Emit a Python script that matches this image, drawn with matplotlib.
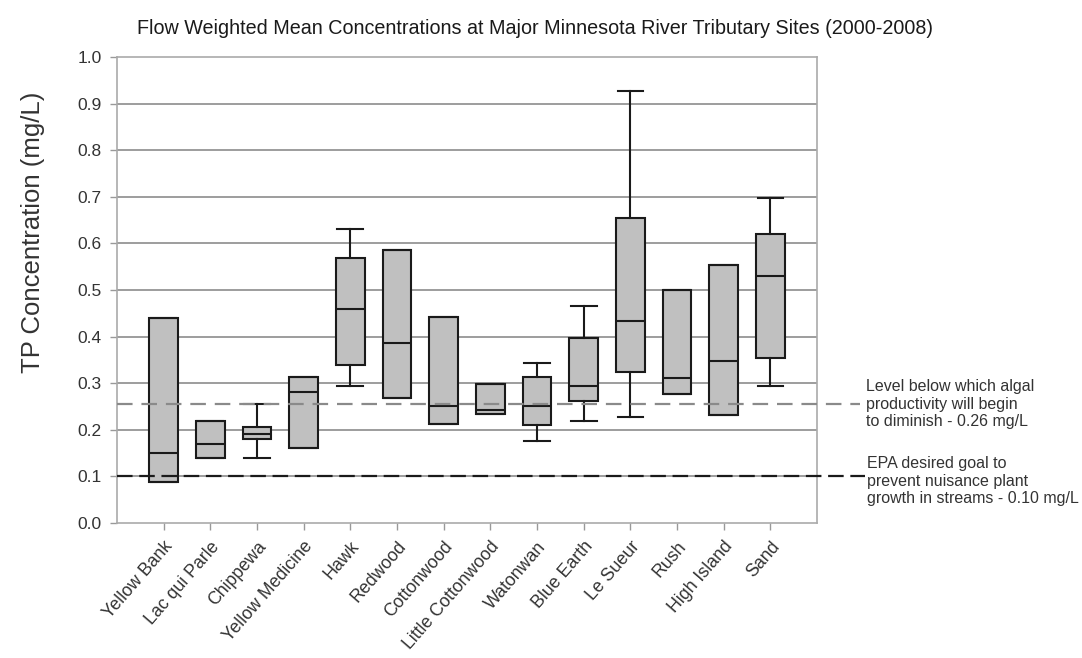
import matplotlib
matplotlib.use("Agg")
import matplotlib.pyplot as plt
from matplotlib import font_manager

# box statistics (mg/L); None = no whisker drawn
sites = ["Yellow Bank", "Lac qui Parle", "Chippewa", "Yellow Medicine", "Hawk",
         "Redwood", "Cottonwood", "Little Cottonwood", "Watonwan", "Blue Earth",
         "Le Sueur", "Rush", "High Island", "Sand"]
q1 =     [0.087, 0.139, 0.180, 0.161, 0.338, 0.268, 0.212, 0.233, 0.210, 0.261, 0.325, 0.276, 0.232, 0.353]
median = [0.150, 0.170, 0.190, 0.280, 0.459, 0.386, 0.252, 0.243, 0.250, 0.293, 0.434, 0.312, 0.348, 0.531]
q3 =     [0.439, 0.219, 0.205, 0.314, 0.569, 0.586, 0.441, 0.298, 0.313, 0.398, 0.654, 0.501, 0.554, 0.620]
wlo =    [None, None, 0.139, None, 0.293, None, None, None, 0.175, 0.219, 0.227, None, None, 0.293]
whi =    [None, None, 0.255, None, 0.631, None, None, None, 0.343, 0.466, 0.928, None, None, 0.698]

algal_level = 0.255
epa_goal = 0.10

available = {f.name for f in font_manager.fontManager.ttflist}
title_font = "Liberation Sans Narrow" if "Liberation Sans Narrow" in available else "Liberation Sans"
plt.rcParams["font.family"] = ["Liberation Sans", "DejaVu Sans"]

stats = []
for i, name in enumerate(sites):
    has_whisk = wlo[i] is not None
    stats.append({
        "label": name,
        "q1": q1[i], "med": median[i], "q3": q3[i],
        "whislo": wlo[i] if has_whisk else q1[i],
        "whishi": whi[i] if has_whisk else q3[i],
        "fliers": [],
    })

fig = plt.figure(figsize=(10.82, 6.58), dpi=100)
ax = fig.add_axes([0.1081, 0.2052, 0.6470, 0.7082])

line = dict(color="#1a1a1a", linewidth=1.5)
ax.bxp(stats, positions=range(1, len(sites) + 1), widths=0.62,
       patch_artist=True, showfliers=False,
       boxprops=dict(facecolor="#c0c0c0", edgecolor="#1a1a1a", linewidth=1.5),
       medianprops=line, whiskerprops=line, capprops=line,
       capwidths=0.55, manage_ticks=False)

ax.set_xlim(0, 15)
ax.set_ylim(0, 1.0)
ax.set_yticks([i / 10 for i in range(11)])
ax.set_yticklabels([f"{i / 10:.1f}" for i in range(11)], fontsize=12.5, color="#333333")
ax.set_xticks(range(1, len(sites) + 1))
ax.set_xticklabels(sites, rotation=49, ha="right", rotation_mode="anchor",
                   fontsize=12.8, color="#333333")
ax.tick_params(axis="both", direction="out", length=5, width=1, color="#999999", pad=6)

for y in [i / 10 for i in range(1, 10)]:
    ax.axhline(y, color="#8c8c8c", linewidth=1.2, zorder=0)
for sp in ax.spines.values():
    sp.set_color("#aaaaaa")
    sp.set_linewidth(1.2)

# reference levels, extending past the plot toward their notes
ax.plot([0, 15.92], [algal_level] * 2, color="#8a8a8a", linewidth=1.6,
        dashes=(7, 4), clip_on=False, zorder=4)
ax.plot([0, 16.03], [epa_goal] * 2, color="#1a1a1a", linewidth=1.6,
        dashes=(7, 3), clip_on=False, zorder=4)
ax.text(16.05, algal_level, "Level below which algal\nproductivity will begin\nto diminish - 0.26 mg/L",
        fontsize=11.5, color="#333333", va="center", ha="left", linespacing=1.2)
ax.text(16.08, epa_goal - 0.01, "EPA desired goal to\nprevent nuisance plant\ngrowth in streams - 0.10 mg/L",
        fontsize=11.5, color="#333333", va="center", ha="left", linespacing=1.2)

ax.set_ylabel("TP Concentration (mg/L)", fontsize=18.5, color="#333333")
ax.yaxis.set_label_coords(-0.103, 0.624)

fig.text(0.494, 0.957,
         "Flow Weighted Mean Concentrations at Major Minnesota River Tributary Sites (2000-2008)",
         ha="center", va="center", fontsize=14.2, family=title_font, color="#1a1a1a")

fig.savefig("out.png", dpi=100, facecolor="white")
